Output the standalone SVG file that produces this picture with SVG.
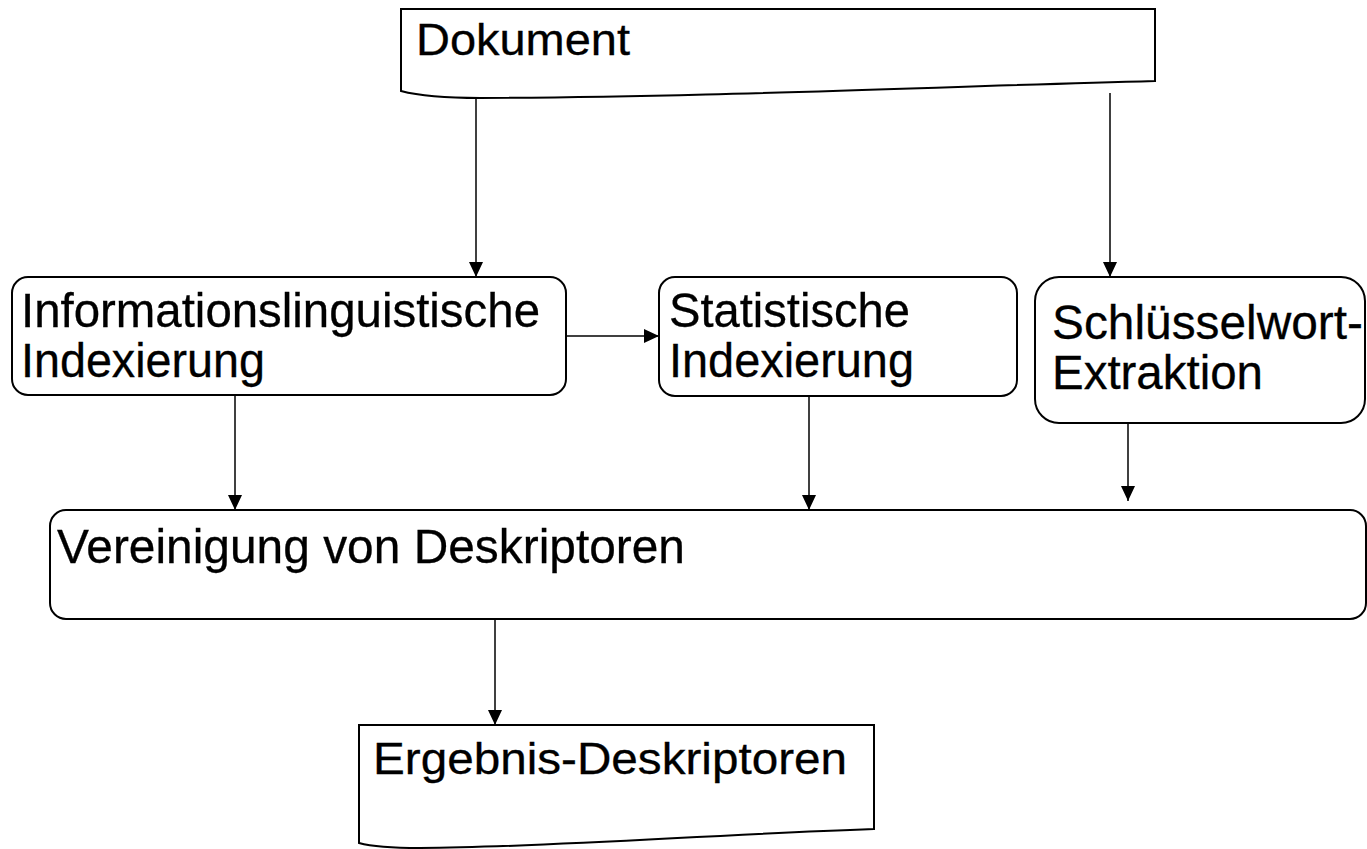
<svg xmlns="http://www.w3.org/2000/svg" width="1367" height="849" viewBox="0 0 1367 849">
<defs>
<marker id="arr" viewBox="0 0 15 14" refX="15" refY="7" markerWidth="15" markerHeight="14" markerUnits="userSpaceOnUse" orient="auto">
<path d="M0,0 L15,7 L0,14 Z" fill="#000"/>
</marker>
<style>
.box{fill:#fff;stroke:#000;stroke-width:2}
.lbl{font-family:"Liberation Sans",Arial,sans-serif;fill:#000;stroke:#000;stroke-width:0.3}
.con{stroke:#000;stroke-width:1.5;fill:none;marker-end:url(#arr)}
</style>
</defs>
<rect width="1367" height="849" fill="#fff"/>
<g id="dokument">
<path class="box" d="M401,9 H1155 V81 C900,88 700,97 480,98 C450,98 420,96 401,91 Z"/>
<text class="lbl" x="416" y="55" font-size="44" textLength="214" lengthAdjust="spacingAndGlyphs">Dokument</text>
</g>
<g id="info">
<rect class="box" x="12" y="277" width="554" height="118" rx="16"/>
<text class="lbl" x="21" y="327" font-size="49" textLength="519" lengthAdjust="spacingAndGlyphs">Informationslinguistische</text>
<text class="lbl" x="21" y="377" font-size="49" textLength="244" lengthAdjust="spacingAndGlyphs">Indexierung</text>
</g>
<g id="statistisch">
<rect class="box" x="659" y="277" width="358" height="119" rx="16"/>
<text class="lbl" x="669" y="327" font-size="49" textLength="241" lengthAdjust="spacingAndGlyphs">Statistische</text>
<text class="lbl" x="669" y="377" font-size="49" textLength="245" lengthAdjust="spacingAndGlyphs">Indexierung</text>
</g>
<g id="schluessel">
<rect class="box" x="1035" y="277" width="330" height="146" rx="24"/>
<text class="lbl" x="1052" y="339" font-size="48" textLength="311" lengthAdjust="spacingAndGlyphs">Schlüsselwort-</text>
<text class="lbl" x="1052" y="389" font-size="48" textLength="211" lengthAdjust="spacingAndGlyphs">Extraktion</text>
</g>
<g id="vereinigung">
<rect class="box" x="50" y="510" width="1316" height="109" rx="16"/>
<text class="lbl" x="57" y="563" font-size="49" textLength="628" lengthAdjust="spacingAndGlyphs">Vereinigung von Deskriptoren</text>
</g>
<g id="ergebnis">
<path class="box" d="M359,725 H874 V829 C700,835 560,847 420,848 C390,848 370,846 359,843 Z"/>
<text class="lbl" x="373" y="774" font-size="44" textLength="474" lengthAdjust="spacingAndGlyphs">Ergebnis-Deskriptoren</text>
</g>
<g id="connectors">
<line class="con" x1="476" y1="99" x2="476" y2="277"/>
<line class="con" x1="1110" y1="93" x2="1110" y2="277"/>
<line class="con" x1="566" y1="336" x2="659" y2="336"/>
<line class="con" x1="235" y1="395" x2="235" y2="510"/>
<line class="con" x1="809" y1="396" x2="809" y2="510"/>
<line class="con" x1="1128" y1="423" x2="1128" y2="501"/>
<line class="con" x1="495" y1="619" x2="495" y2="725"/>
</g>
</svg>
